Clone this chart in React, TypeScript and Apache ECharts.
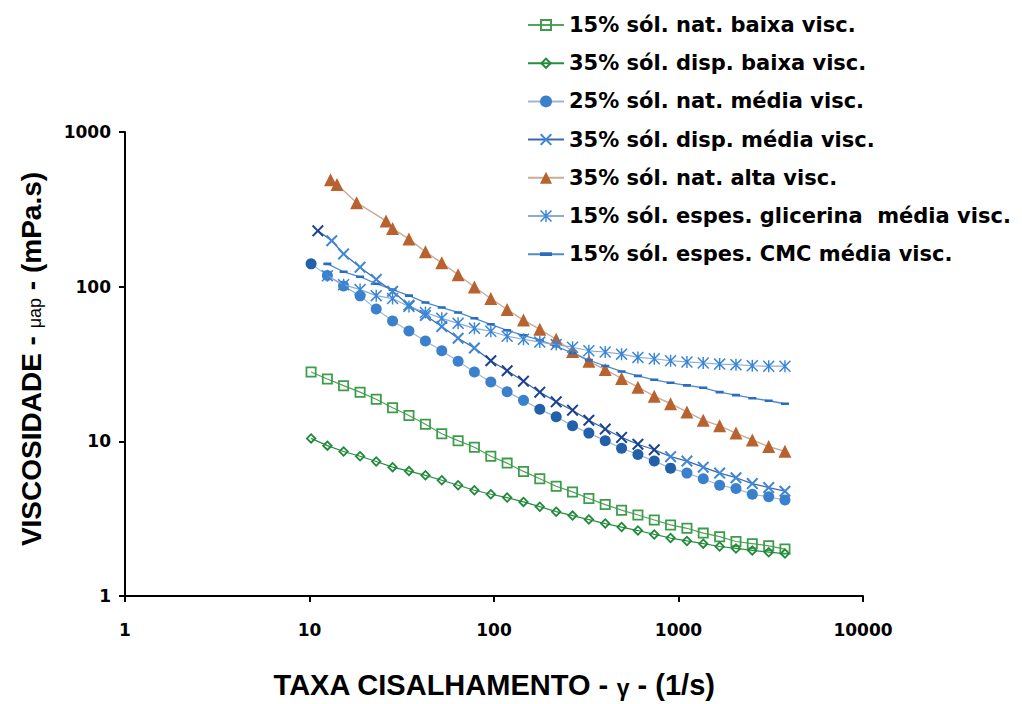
import { useEffect, useRef } from "react";
import * as echarts from "echarts";

// Taxa de cisalhamento (1/s) – grade comum das leituras
const taxa = [10.2, 12.5, 15.3, 18.8, 23.0, 28.2, 34.6, 42.5, 52.1, 63.9, 78.3, 96.1, 117.8, 144.5, 177.1, 217.3, 266.5, 326.7, 400.7, 491.4, 602.6, 739.1, 906, 1111, 1362, 1671, 2049, 2512, 3083, 3776];
const taxaDispMedia = [11.1, 13.2, 15.3, 18.8, 23.0, 28.2, 34.6, 42.5, 52.1, 63.9, 78.3, 96.1, 117.8, 144.5, 177.1, 217.3, 266.5, 326.7, 400.7, 491.4, 602.6, 739.1, 906, 1111, 1362, 1671, 2049, 2512, 3083, 3776];
const taxaAlta = [13.0, 14.1, 18.0, 26.0, 28.2, 34.6, 42.5, 52.1, 63.9, 78.3, 96.1, 117.8, 144.5, 177.1, 217.3, 266.5, 326.7, 400.7, 491.4, 602.6, 739.1, 906, 1111, 1362, 1671, 2049, 2512, 3083, 3776];
const taxaEspes = [12.5, 15.3, 18.8, 23.0, 28.2, 34.6, 42.5, 52.1, 63.9, 78.3, 96.1, 117.8, 144.5, 177.1, 217.3, 266.5, 326.7, 400.7, 491.4, 602.6, 739.1, 906, 1111, 1362, 1671, 2049, 2512, 3083, 3776];

// Viscosidade aparente (mPa.s)
const natBaixa15 = [28.1, 25.3, 22.9, 20.8, 18.7, 16.5, 14.7, 12.9, 11.2, 10.1, 9.15, 8.01, 7.23, 6.39, 5.73, 5.12, 4.71, 4.27, 3.9, 3.59, 3.34, 3.1, 2.88, 2.74, 2.55, 2.42, 2.25, 2.18, 2.11, 2.01];
const dispBaixa35 = [10.45, 9.38, 8.59, 8.01, 7.41, 6.81, 6.42, 6.03, 5.6, 5.2, 4.83, 4.55, 4.33, 4.06, 3.78, 3.51, 3.31, 3.12, 2.94, 2.79, 2.65, 2.5, 2.37, 2.27, 2.18, 2.09, 2.03, 1.97, 1.92, 1.88];
const natMedia25 = [140.4, 118.1, 101.0, 87.2, 71.6, 59.9, 51.7, 44.6, 38.5, 32.9, 28.1, 24.2, 20.9, 18.4, 16.1, 14.4, 12.6, 11.3, 10.1, 9.02, 8.22, 7.45, 6.71, 6.23, 5.73, 5.2, 4.95, 4.55, 4.38, 4.17];
const dispMedia35 = [229.6, 198.1, 162.8, 133.7, 111.4, 93.3, 75.9, 65.2, 55.2, 46.4, 40.1, 33.2, 28.6, 24.5, 20.8, 18.0, 15.9, 13.7, 12.0, 10.6, 9.57, 8.82, 7.96, 7.45, 6.81, 6.23, 5.82, 5.33, 5.02, 4.76];
const natAlta35 = [492, 457, 349, 266, 238, 203, 168, 142.6, 119.4, 99.5, 83.8, 71.2, 60.8, 53.0, 45.7, 38.1, 32.9, 29.1, 25.5, 22.4, 19.6, 17.5, 15.5, 13.7, 12.6, 11.3, 10.2, 9.25, 8.63];
const glicerina15 = [117.7, 103.0, 95.7, 87.5, 83.8, 74.5, 68.1, 62.4, 57.9, 53.8, 51.5, 47.8, 45.7, 43.8, 42.2, 40.6, 38.5, 37.8, 36.6, 34.9, 34.2, 33.2, 32.6, 32.1, 31.6, 31.3, 30.8, 30.6, 30.6];
const cmc15 = [140.4, 124.8, 115.9, 104.5, 95.7, 87.5, 78.9, 73.3, 68.1, 62.4, 57.1, 52.2, 48.5, 45.1, 41.2, 37.2, 33.5, 30.7, 28.3, 26.5, 25.0, 23.9, 23.0, 22.2, 20.8, 19.9, 19.0, 18.3, 17.5];

const nomes = [
  "15% sól. nat. baixa visc.",
  "35% sól. disp. baixa visc.",
  "25% sól. nat. média visc.",
  "35% sól. disp. média visc.",
  "35% sól. nat. alta visc.",
  "15% sól. espes. glicerina  média visc.",
  "15% sól. espes. CMC média visc.",
];

// marcadores desenhados como contornos preenchidos
const SQ_HOLLOW = "path://M0,0H10V10H0Z M1.6,1.6V8.4H8.4V1.6Z";
const DIA_HOLLOW = "path://M5,0L10,5L5,10L0,5Z M5,2.3L2.3,5L5,7.7L7.7,5Z";
const CROSS = "path://M0,1.2L1.2,0L5,3.8L8.8,0L10,1.2L6.2,5L10,8.8L8.8,10L5,6.2L1.2,10L0,8.8L3.8,5Z";
const STAR = "path://M4.4,0H5.6V10H4.4Z M0.9,0L5,4.1L9.1,0L10,0.9L5.9,5L10,9.1L9.1,10L5,5.9L0.9,10L0,9.1L4.1,5L0,0.9Z";
// traço curto; os cantos mínimos mantêm a caixa quadrada
const DASH = "path://M0,0H0.01V0.01H0Z M9.99,9.99H10V10H9.99Z M0,3.4H10V6.6H0Z";

const pares = (xs: number[], ys: number[]) => xs.map((x, i) => [x, ys[i]]);

const TICK_FONT = "DejaVu Sans";
const TITLE_FONT = "Liberation Sans";

export default function App() {
  const ref = useRef<HTMLDivElement>(null);

  useEffect(() => {
    if (!ref.current) return;
    const chart = echarts.init(ref.current, undefined, { renderer: "svg" });

    const darkCircle = (i: number) => i === 0 || (i >= 14 && i <= 22);
    const darkCross = (i: number) => i === 0 || (i >= 11 && i <= 21);

    const base = {
      type: "line" as const,
      showSymbol: true,
      symbolKeepAspect: true,
      smooth: false,
    };

    chart.setOption({
      animation: false,
      backgroundColor: "#ffffff",
      grid: { left: 125, width: 738, top: 132, height: 468, containLabel: false },
      legend: {
        orient: "vertical",
        left: 527,
        top: 14,
        padding: 0,
        itemWidth: 36,
        itemHeight: 15,
        itemGap: 16.2,
        data: nomes,
        textStyle: {
          fontFamily: TICK_FONT,
          fontWeight: "bold",
          fontSize: 21,
          lineHeight: 22,
          color: "#000",
        },
      },
      xAxis: {
        type: "log",
        logBase: 10,
        min: 1,
        max: 10000,
        axisLine: { show: true, onZero: false, lineStyle: { color: "#000", width: 2 } },
        axisTick: { show: true, length: 6, lineStyle: { color: "#000", width: 2 } },
        minorTick: { show: false },
        splitLine: { show: false },
        axisLabel: {
          margin: 25,
          fontFamily: TICK_FONT,
          fontWeight: "bold",
          fontSize: 17,
          color: "#000",
          formatter: (v: number) => String(v),
        },
        name: "{a|TAXA CISALHAMENTO - }{g|γ}{a| - (1/s)}",
        nameLocation: "middle",
        nameGap: 74,
        nameTextStyle: {
          fontFamily: TITLE_FONT,
          fontWeight: "bold",
          fontSize: 29,
          color: "#000",
          rich: {
            a: { fontFamily: TITLE_FONT, fontWeight: "bold", fontSize: 29, color: "#000" },
            g: { fontFamily: TITLE_FONT, fontWeight: "bold", fontSize: 23, color: "#000", padding: [6, 0, 0, 0] },
          },
        },
      },
      yAxis: {
        type: "log",
        logBase: 10,
        min: 1,
        max: 1000,
        axisLine: { show: true, onZero: false, lineStyle: { color: "#000", width: 2 } },
        axisTick: { show: true, length: 6, lineStyle: { color: "#000", width: 2 } },
        minorTick: { show: false },
        splitLine: { show: false },
        axisLabel: {
          margin: 14,
          fontFamily: TICK_FONT,
          fontWeight: "bold",
          fontSize: 17,
          color: "#000",
          formatter: (v: number) => String(v),
        },
        name: "{a|VISCOSIDADE - }{m|μap}{a| - (mPa.s)}",
        nameLocation: "middle",
        nameRotate: 90,
        nameGap: 80,
        nameTextStyle: {
          fontFamily: TITLE_FONT,
          fontWeight: "bold",
          fontSize: 28,
          color: "#000",
          padding: [0, 0, 0, 10],
          rich: {
            a: { fontFamily: TITLE_FONT, fontWeight: "bold", fontSize: 28, color: "#000" },
            m: { fontFamily: TITLE_FONT, fontWeight: "normal", fontSize: 18, color: "#000", padding: [8, 0, 0, 0] },
          },
        },
      },
      series: [
        {
          ...base,
          name: nomes[0],
          data: pares(taxa, natBaixa15),
          symbol: SQ_HOLLOW,
          symbolSize: 11,
          itemStyle: { color: "#3d9c4a", borderWidth: 0 },
          lineStyle: { color: "#4fa35b", width: 1.2 },
          z: 3,
        },
        {
          ...base,
          name: nomes[1],
          data: pares(taxa, dispBaixa35),
          symbol: DIA_HOLLOW,
          symbolSize: 11,
          itemStyle: { color: "#1f8a3a", borderWidth: 0 },
          lineStyle: { color: "#2a8c40", width: 1.2 },
          z: 3,
        },
        {
          ...base,
          name: nomes[2],
          data: pares(taxa, natMedia25).map((p, i) => ({
            value: p,
            itemStyle: { color: darkCircle(i) ? "#2260aa" : "#3a80cc" },
          })),
          symbol: "circle",
          symbolSize: 11,
          itemStyle: { color: "#3a80cc", borderWidth: 0 },
          lineStyle: { color: "#9db6d4", width: 1.2 },
          z: 4,
        },
        {
          ...base,
          name: nomes[3],
          data: pares(taxaDispMedia, dispMedia35).map((p, i) => ({
            value: p,
            itemStyle: { color: darkCross(i) ? "#1d4290" : "#3f86d4" },
          })),
          symbol: CROSS,
          symbolSize: 12,
          itemStyle: { color: "#3f86d4", borderWidth: 0 },
          lineStyle: { color: "#3a68ad", width: 1.2 },
          z: 5,
        },
        {
          ...base,
          name: nomes[4],
          data: pares(taxaAlta, natAlta35),
          symbol: "triangle",
          symbolSize: 13,
          itemStyle: { color: "#b8622f", borderWidth: 0 },
          lineStyle: { color: "#c9ab98", width: 1.4 },
          z: 4,
        },
        {
          ...base,
          name: nomes[5],
          data: pares(taxaEspes, glicerina15),
          symbol: STAR,
          symbolSize: 12,
          itemStyle: { color: "#3a86d6", borderWidth: 0 },
          lineStyle: { color: "#8aacd2", width: 1.2 },
          z: 5,
        },
        {
          ...base,
          name: nomes[6],
          data: pares(taxaEspes, cmc15),
          symbol: DASH,
          symbolSize: 8,
          itemStyle: { color: "#2c6cbf", borderWidth: 0 },
          lineStyle: { color: "#4d8bcf", width: 1.3 },
          z: 4,
        },
      ],
    });

    return () => chart.dispose();
  }, []);

  return (
    <div
      ref={ref}
      style={{ position: "fixed", left: 0, top: 0, width: 1022, height: 704, background: "#fff" }}
    />
  );
}
